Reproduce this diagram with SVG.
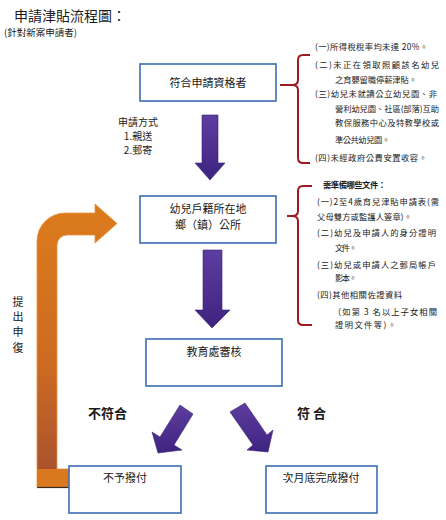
<svg xmlns="http://www.w3.org/2000/svg" width="446" height="520" viewBox="0 0 446 520">
<style>
text{font-family:"Noto Sans CJK TC","Noto Sans CJK SC",sans-serif;fill:#1a1a1a}
.box{fill:#fff;stroke:#3D6DB5;stroke-width:1.6}
.lbl{font-size:11px;text-anchor:middle}
.note{font-size:8.3px}
.brace{fill:none;stroke:#9E1B22;stroke-width:2;stroke-linejoin:round}
.pur{fill:url(#pg);stroke:#3A2473;stroke-width:0.6}
.m{font-size:10px;text-anchor:middle}
</style>
<defs>
<linearGradient id="pg" x1="0" y1="0" x2="0" y2="1">
<stop offset="0" stop-color="#5E3DA0"/>
<stop offset="1" stop-color="#3E2380"/>
</linearGradient>
<linearGradient id="og" gradientUnits="userSpaceOnUse" x1="0" y1="213" x2="0" y2="469">
<stop offset="0" stop-color="#DB7A1C"/>
<stop offset="0.6" stop-color="#CC6A22"/>
<stop offset="1" stop-color="#AA532E"/>
</linearGradient>
</defs>
<rect width="446" height="520" fill="#fff"/>

<g id="title">
<text x="14" y="21" font-size="14">申請津貼流程圖：</text>
<text x="4" y="36" font-size="9.5">(針對新案申請者)</text>
</g>

<g id="connectors">
<path class="pur" d="M202,115 H218 V163 H225 L210,180 L195,163 H202 Z"/>
<path class="pur" d="M203,250 H222 V310 H230 L212,328 L195,310 H203 Z"/>
<path class="pur" d="M180,405 L193,414 L174,445 L182,450 L158,453 L152,432 L160,437 Z"/>
<path class="pur" d="M245,403 L230,412 L253,445 L247,450 L268,452 L273,430 L267,435 Z"/>
<path d="M37,487 V241 A28,28 0 0 1 65,213 H95 V204 L117,223.5 L95,243 V235 H67 A10,10 0 0 0 57,245 V469 H69 V487 Z" fill="url(#og)" stroke="#E8953F" stroke-width="0.8"/>
<rect x="37" y="469" width="32" height="18" fill="#D9781F"/>
<line x1="37" y1="487.5" x2="69" y2="487.5" stroke="#3a2a20" stroke-width="1.2"/>
<path class="brace" d="M310,55 H303 Q298,55 298,60 V80 Q298,85 292,85 H280 M292,85 Q298,85 298,90 V158 Q298,163 303,163 H310"/>
<path class="brace" d="M312,186 H303 Q298,186 298,191 V211 Q298,216 292,216 H287 M292,216 Q298,216 298,221 V320 Q298,325 303,325 H312"/>
</g>

<g id="n1">
<rect class="box" x="140" y="64" width="136" height="37"/>
<text class="lbl" x="208" y="87">符合申請資格者</text>
</g>
<g id="method">
<text class="m" x="138" y="126">申請方式</text>
<text class="m" x="138" y="140">1.親送</text>
<text class="m" x="138" y="154">2.郵寄</text>
</g>
<g id="n2">
<rect class="box" x="140" y="196" width="136" height="47"/>
<text class="lbl" x="208" y="213">幼兒戶籍所在地</text>
<text class="lbl" x="208" y="229">鄉（鎮）公所</text>
</g>
<g id="n3">
<rect class="box" x="146" y="339" width="136" height="47"/>
<text class="lbl" x="214" y="356">教育處審核</text>
</g>
<g id="n4">
<rect class="box" x="69" y="466" width="112" height="47"/>
<text class="lbl" x="125" y="482">不予撥付</text>
</g>
<g id="n5">
<rect class="box" x="266" y="466" width="111" height="47"/>
<text class="lbl" x="321" y="482">次月底完成撥付</text>
</g>
<g id="labels">
<text x="88" y="418" font-size="13" font-weight="bold">不符合</text>
<text x="297" y="418" font-size="13" font-weight="bold">符 合</text>
<text x="18" y="306" font-size="11" text-anchor="middle">提</text>
<text x="18" y="321" font-size="11" text-anchor="middle">出</text>
<text x="18" y="336" font-size="11" text-anchor="middle">申</text>
<text x="18" y="352" font-size="11" text-anchor="middle">復</text>
</g>
<g id="conditions">
<text class="note" x="315" y="50" textLength="113">(一)所得稅稅率均未達 20%。</text>
<text class="note" x="315" y="68" textLength="124">(二)未正在領取照顧該名幼兒</text>
<text class="note" x="335" y="83" textLength="82">之育嬰留職停薪津貼。</text>
<text class="note" x="315" y="97" textLength="122">(三)幼兒未就讀公立幼兒園、非</text>
<text class="note" x="335" y="112" textLength="104">營利幼兒園、社區(部落)互助</text>
<text class="note" x="335" y="126" textLength="104">教保服務中心及特教學校或</text>
<text class="note" x="335" y="143" textLength="55">準公共幼兒園。</text>
<text class="note" x="315" y="161" textLength="112">(四)未經政府公費安置收容。</text>
</g>
<g id="documents">
<text class="note" x="323" y="188" font-weight="bold" textLength="63">需準備哪些文件：</text>
<text class="note" x="317" y="205" textLength="122">(一)2至4歲育兒津貼申請表(需</text>
<text class="note" x="317" y="220" textLength="95">父母雙方或監護人簽章)。</text>
<text class="note" x="317" y="236" textLength="119">(二)幼兒及申請人的身分證明</text>
<text class="note" x="335" y="251" textLength="22">文件。</text>
<text class="note" x="317" y="268" textLength="119">(三)幼兒或申請人之郵局帳戶</text>
<text class="note" x="335" y="281" textLength="22">影本。</text>
<text class="note" x="317" y="298" textLength="85">(四)其他相關佐證資料</text>
<text class="note" x="333" y="315" textLength="104">（如第 3 名以上子女相關</text>
<text class="note" x="335" y="328" textLength="61">證明文件等)。</text>
</g>
</svg>
